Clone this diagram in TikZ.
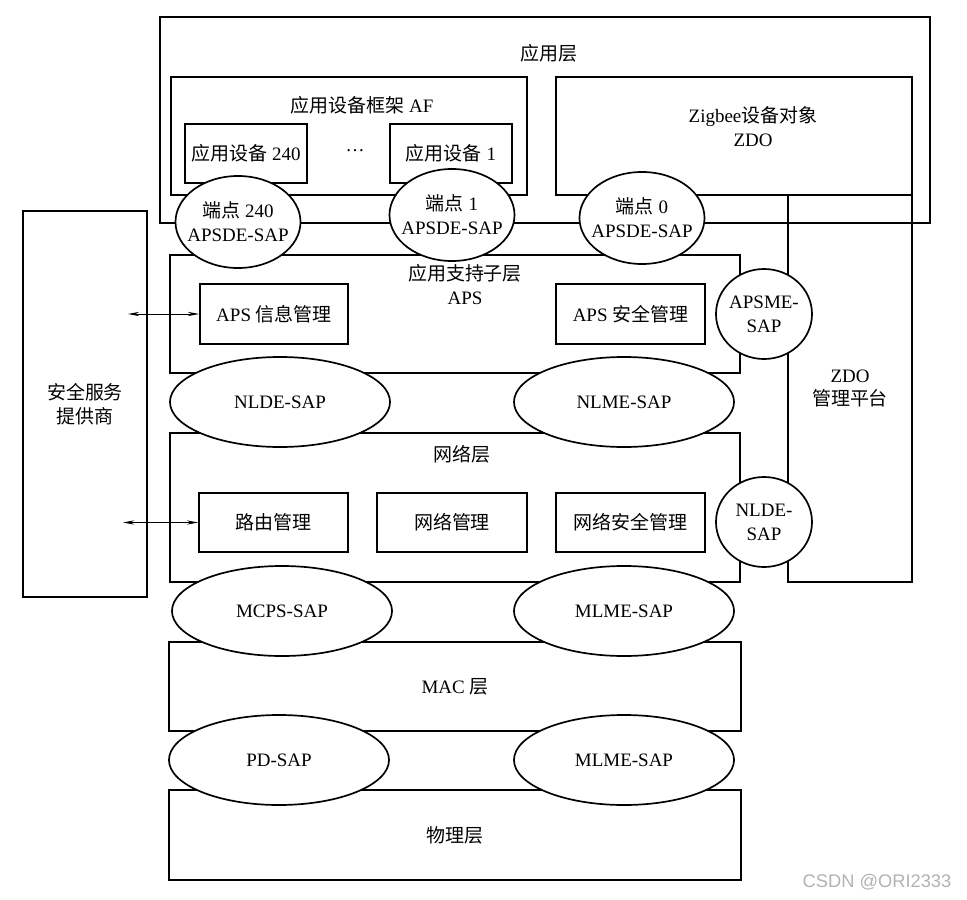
\documentclass[tikz,border=0pt]{standalone}
\usepackage{fontspec}
\setmainfont{Liberation Serif}
\newfontfamily\cjk{Noto Sans CJK SC}
\newfontfamily\wmfont{Liberation Sans}
\usetikzlibrary{shapes.geometric,arrows.meta}

\tikzset{
  layer/.style={draw, line width=1.2pt, inner sep=0pt},
  unit/.style={draw, line width=1.2pt, inner sep=0pt, minimum height=1.475cm},
  sap/.style={ellipse, draw, line width=1.2pt, fill=white, inner sep=0pt},
  epsap/.style={sap, minimum width=3.125cm, minimum height=2.3cm},
  widesap/.style={sap, minimum width=5.5cm, minimum height=2.25cm},
  mesap/.style={sap, minimum width=2.4cm, minimum height=2.25cm}
}

\begin{document}
\begin{tikzpicture}[x=0.025cm, y=-0.025cm, >={Stealth[length=8pt,width=3pt]},
    every node/.style={font=\fontsize{13.5}{17}\selectfont, align=center}]
  \useasboundingbox (0,0) rectangle (967,900);

  % 应用层
  \node[layer, minimum width=19.25cm, minimum height=5.15cm] (applayer) at (545,120) {};
  \node (applabel) at (549,53) {\cjk 应用层};
  \node[layer, minimum width=8.9cm, minimum height=2.95cm] (af) at (349,136) {};
  \node (aflabel) at (362,105) {{\cjk 应用设备框架} AF};
  \node[unit, minimum width=3.05cm] (dev240) at (246,153.5) {{\cjk 应用设备} 240};
  \node[unit, minimum width=3.05cm] (dev1) at (451,153.5) {{\cjk 应用设备} 1};
  \node (dots) at (355,151) {…};
  \node[layer, minimum width=8.9cm, minimum height=2.95cm] (zdo) at (734,136) {};
  \node (zdolabel) at (753,127) {Zigbee{\cjk 设备对象}\\ZDO};

  % ZDO 管理平台
  \node[layer, minimum width=3.1cm, minimum height=9.675cm] (zdoplat) at (850,388.5) {ZDO\\{\cjk 管理平台}};

  % 安全服务提供商
  \node[layer, minimum width=3.1cm, minimum height=9.65cm] (secprov) at (85,404) {{\cjk 安全服务}\\{\cjk 提供商}};

  % 应用支持子层
  \node[layer, minimum width=14.25cm, minimum height=2.95cm] (aps) at (455,314) {};
  \node (apslabel) at (465,284.5) {{\cjk 应用支持子层}\\APS};
  \node[unit, minimum width=3.7cm, minimum height=1.5cm] (apsinfo) at (274,314) {APS {\cjk 信息管理}};
  \node[unit, minimum width=3.725cm, minimum height=1.5cm] (apssec) at (630.5,314) {APS {\cjk 安全管理}};

  % 网络层
  \node[layer, minimum width=14.25cm, minimum height=3.725cm] (nwk) at (455,507.5) {};
  \node (nwklabel) at (462,454) {\cjk 网络层};
  \node[unit, minimum width=3.725cm] (route) at (273.5,522.5) {\cjk 路由管理};
  \node[unit, minimum width=3.75cm] (nwkmgmt) at (452,522.5) {\cjk 网络管理};
  \node[unit, minimum width=3.725cm] (nwksec) at (630.5,522.5) {\cjk 网络安全管理};

  % MAC 层, 物理层
  \node[layer, minimum width=14.3cm, minimum height=2.225cm] (mac) at (455,686.5) {MAC {\cjk 层}};
  \node[layer, minimum width=14.3cm, minimum height=2.25cm] (phy) at (455,835) {\cjk 物理层};

  % 服务接入点
  \node[epsap, label={[align=center]center:{\cjk 端点} 240\\APSDE-SAP}] (ep240) at (238,222) {};
  \node[epsap, label={[align=center]center:{\cjk 端点} 1\\APSDE-SAP}] (ep1) at (452,215) {};
  \node[epsap, label={[align=center]center:{\cjk 端点} 0\\APSDE-SAP}] (ep0) at (642,218) {};
  \node[mesap, label={[align=center]center:APSME-\\SAP}] (apsme) at (764,314) {};
  \node[widesap, label=center:NLDE-SAP] (nldesap) at (280,402) {};
  \node[widesap, label=center:NLME-SAP] (nlmesap) at (624,402) {};
  \node[mesap, label={[align=center]center:NLDE-\\SAP}] (nldeplat) at (764,522) {};
  \node[widesap, label=center:MCPS-SAP] (mcpssap) at (282,611) {};
  \node[widesap, label=center:MLME-SAP] (mlmemac) at (624,611) {};
  \node[widesap, label=center:PD-SAP] (pdsap) at (279,760) {};
  \node[widesap, label=center:MLME-SAP] (mlmephy) at (624,760) {};

  % 安全服务
  \coordinate (s1) at (128,314);
  \coordinate (s2) at (123,522.5);
  \draw[<->, line width=0.6pt] (s1) -- (apsinfo.west);
  \draw[<->, line width=0.6pt] (s2) -- (route.west);

  \node[text=gray!60, font=\wmfont\fontsize{13}{15}\selectfont] (wm) at (877,882) {CSDN @ORI2333};
\end{tikzpicture}
\end{document}
